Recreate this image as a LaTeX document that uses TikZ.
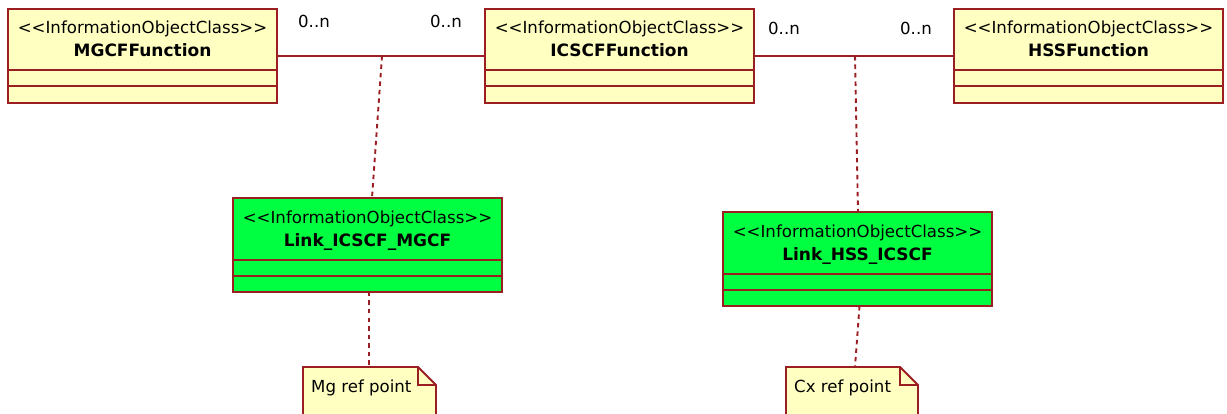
\documentclass[tikz,border=0pt]{standalone}
\usepackage{fontspec}
\setmainfont{DejaVu Sans}[Ligatures=TeXOff]
\definecolor{umlred}{RGB}{155,30,35}
\definecolor{umlyellow}{RGB}{255,255,194}
\definecolor{umlgreen}{RGB}{0,255,64}
\begin{document}
\begin{tikzpicture}[x=1pt,y=-1pt,
  font=\fontsize{16.6}{19}\selectfont,
  classbox/.style={draw=umlred, line width=1.8pt, inner sep=0pt, outer sep=0pt,
    anchor=north west, minimum width=269pt, minimum height=94pt},
  yellowbox/.style={classbox, fill=umlyellow},
  greenbox/.style={classbox, fill=umlgreen},
  comp/.style={draw=umlred, line width=1.8pt},
  stereo/.style={anchor=base, inner sep=0pt},
  cname/.style={anchor=base, inner sep=0pt, font=\fontsize{17}{19}\selectfont\bfseries},
  assoc/.style={draw=umlred, line width=1.8pt},
  depend/.style={draw=umlred, line width=1.9pt, dash pattern=on 4.5pt off 4pt},
  mult/.style={anchor=base, inner sep=0pt},
  notebox/.style={draw=umlred, line width=1.8pt, fill=umlyellow, line join=miter},
  notetext/.style={anchor=base west, inner sep=0pt}]
\useasboundingbox (0,0) rectangle (1227,414);
\clip (0,0) rectangle (1227,414);

% --- class boxes (top row)
\node[yellowbox] (mgcf) at (8,9) {};
\node[yellowbox] (icscf) at (485,9) {};
\node[yellowbox] (hss) at (954,9) {};
\foreach \b in {mgcf,icscf,hss}{
  \draw[comp] ([yshift=-61pt]\b.north west) -- ([yshift=-61pt]\b.north east);
  \draw[comp] ([yshift=-77pt]\b.north west) -- ([yshift=-77pt]\b.north east);
}
\node[stereo] (mgcfst) at (142.5,33.5) {<<InformationObjectClass>>};
\node[cname]  (mgcfnm) at (142.5,57) {MGCFFunction};
\node[stereo] (icscfst) at (619.5,33.5) {<<InformationObjectClass>>};
\node[cname]  (icscfnm) at (619.5,57) {ICSCFFunction};
\node[stereo] (hssst) at (1088.5,33.5) {<<InformationObjectClass>>};
\node[cname]  (hssnm) at (1088.5,57) {HSSFunction};

% --- link classes
\node[greenbox] (link1) at (233,198) {};
\node[greenbox] (link2) at (723,212) {};
\foreach \b in {link1,link2}{
  \draw[comp] ([yshift=-62pt]\b.north west) -- ([yshift=-62pt]\b.north east);
  \draw[comp] ([yshift=-78pt]\b.north west) -- ([yshift=-78pt]\b.north east);
}
\node[stereo] (link1st) at (367.5,223.5) {<<InformationObjectClass>>};
\node[cname]  (link1nm) at (367.5,247) {Link\_ICSCF\_MGCF};
\node[stereo] (link2st) at (857.5,237.5) {<<InformationObjectClass>>};
\node[cname]  (link2nm) at (857.5,261) {Link\_HSS\_ICSCF};

% --- associations
\draw[assoc] (mgcf.east) -- (icscf.west);
\draw[assoc] (icscf.east) -- (hss.west);
\node[mult] (m1) at (314,28) {0..n};
\node[mult] (m2) at (446,28) {0..n};
\node[mult] (m3) at (784,35) {0..n};
\node[mult] (m4) at (916,35) {0..n};

% --- association-class dependencies
\coordinate (a1) at (382,56);
\coordinate (a1end) at (372,198);
\coordinate (a2) at (855,56);
\coordinate (a2end) at (858,212);
\draw[depend] (a1) -- (a1end);
\draw[depend] (a2) -- (a2end);

% --- notes
\draw[notebox] (303,430) -- (303,367) -- (418,367) -- (436,385) -- (436,430);
\draw[comp] (418,367) -- (418,385) -- (436,385);
\node[notetext] (note1) at (311,392) {Mg ref point};
\coordinate (n1top) at (369,367);
\draw[notebox] (786,430) -- (786,367) -- (900,367) -- (918,385) -- (918,430);
\draw[comp] (900,367) -- (900,385) -- (918,385);
\node[notetext] (note2) at (794,392) {Cx ref point};
\coordinate (n2top) at (855,367);

\draw[depend] (link1.south -| n1top) -- (n1top);
\draw[depend] ([xshift=2pt]link2.south) -- (n2top);
\end{tikzpicture}
\end{document}
